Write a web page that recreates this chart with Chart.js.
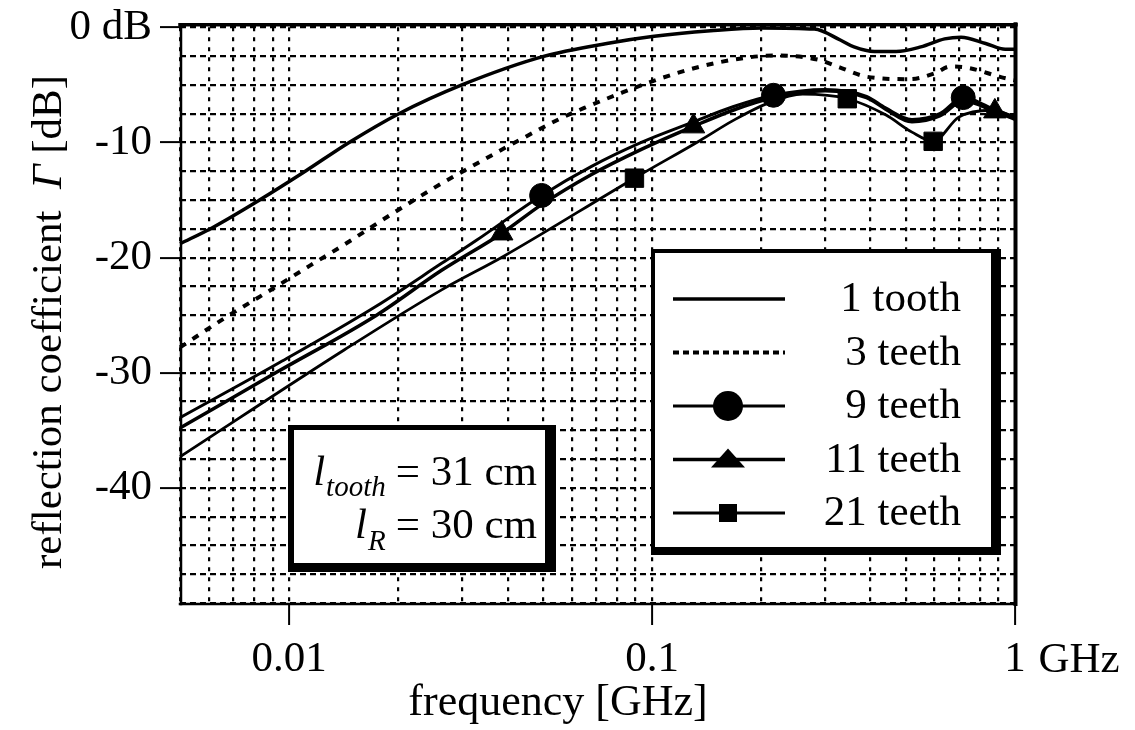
<!DOCTYPE html>
<html>
<head>
<meta charset="utf-8">
<script src="https://cdn.jsdelivr.net/npm/chart.js@4.4.1/dist/chart.umd.min.js"></script>
<style>
  html, body { margin: 0; padding: 0; background: #fff; }
</style>
</head>
<body>
<canvas id="chart" width="1135" height="730"></canvas>
<script>
// frequency [GHz] and reflection coefficient [dB]
const tooth1Freq = [0.005, 0.00614, 0.00828, 0.01107, 0.01462, 0.02005, 0.0299, 0.0505, 0.075, 0.1, 0.145, 0.2, 0.28, 0.33, 0.36, 0.41, 0.47, 0.55, 0.64, 0.71, 0.83, 0.94, 1.0];
const tooth1Db   = [-18.8, -17.4, -15.0, -12.5, -10.0, -7.5, -5.0, -2.5, -1.4, -0.8, -0.3, -0.05, -0.15, -1.1, -1.7, -2.1, -2.1, -1.7, -1.0, -0.85, -1.4, -1.9, -1.9];

const teeth3Freq = [0.005, 0.0066, 0.0088, 0.0114, 0.0143, 0.0192, 0.0252, 0.0339, 0.0436, 0.0552, 0.065, 0.0807, 0.104, 0.136, 0.176, 0.216, 0.286, 0.33, 0.392, 0.515, 0.60, 0.663, 0.738, 0.91, 1.0];
const teeth3Db   = [-27.8, -25.3, -22.9, -20.7, -18.8, -16.2, -13.9, -11.6, -9.7, -8.0, -7.0, -5.8, -4.5, -3.4, -2.7, -2.45, -2.8, -3.5, -4.3, -4.5, -4.0, -3.4, -3.5, -4.3, -4.6];

const teeth9Freq  = [0.005, 0.0093, 0.0174, 0.0263, 0.0328, 0.0496, 0.0679, 0.0934, 0.128, 0.167, 0.216, 0.30, 0.39, 0.44, 0.52, 0.62, 0.72, 0.86, 1.0];
const teeth9Db    = [-33.9, -29.2, -24.2, -20.5, -18.5, -14.6, -12.1, -10.0, -8.3, -6.9, -5.9, -5.4, -6.0, -7.0, -8.0, -7.5, -6.1, -7.0, -7.8];
const teeth9Marks = [0.0496, 0.216, 0.72];

const teeth11Freq  = [0.005, 0.0093, 0.0174, 0.0263, 0.0385, 0.0496, 0.0679, 0.0934, 0.13, 0.167, 0.216, 0.30, 0.39, 0.44, 0.52, 0.62, 0.72, 0.88, 1.0];
const teeth11Db    = [-34.8, -29.9, -25.0, -21.1, -17.9, -15.4, -12.8, -10.6, -8.6, -7.2, -6.1, -5.5, -6.1, -7.1, -8.2, -7.7, -6.4, -7.3, -8.0];
const teeth11Marks = [0.0385, 0.13, 0.88];

const teeth21Freq  = [0.005, 0.0142, 0.0263, 0.0389, 0.0894, 0.136, 0.167, 0.208, 0.26, 0.345, 0.44, 0.52, 0.595, 0.70, 0.86, 1.0];
const teeth21Db    = [-37.3, -28.0, -22.8, -19.9, -13.1, -9.8, -8.1, -6.6, -5.8, -6.2, -7.6, -9.1, -9.9, -7.8, -7.2, -7.8];
const teeth21Marks = [0.0894, 0.345, 0.595];

const seriesNames = ['1 tooth', '3 teeth', '9 teeth', '11 teeth', '21 teeth'];

// axes
const xGridValues = [0.005, 0.006, 0.007, 0.008, 0.009, 0.01, 0.02, 0.03, 0.04, 0.05, 0.06, 0.07, 0.08, 0.09,
                     0.1, 0.2, 0.3, 0.4, 0.5, 0.6, 0.7, 0.8, 0.9, 1];
const xLabelValues = [0.01, 0.1, 1];
const xLabelTexts  = ['0.01', '0.1', '1'];
const yGridValues = Array.from({length: 21}, (_, i) => -50 + 2.5 * i);
const yLabelValues = [0, -10, -20, -30, -40];
const yLabelTexts  = ['0 dB', '-10', '-20', '-30', '-40'];

const FONT = "'Liberation Serif', 'Times New Roman', serif";

const pts = (f, d) => f.map((x, i) => ({x: x, y: d[i]}));
const marker = (marks, r) => (ctx) => (ctx.raw && marks.includes(ctx.raw.x)) ? r : 0;

const lineBase = {
  borderColor: '#000',
  backgroundColor: '#000',
  pointBackgroundColor: '#000',
  pointBorderColor: '#000',
  cubicInterpolationMode: 'monotone',
  fill: false,
  clip: 4
};

const datasets = [
  Object.assign({}, lineBase, {label: seriesNames[0], data: pts(tooth1Freq, tooth1Db), borderWidth: 3.5, pointRadius: 0}),
  Object.assign({}, lineBase, {label: seriesNames[1], data: pts(teeth3Freq, teeth3Db), borderWidth: 4, borderDash: [7, 8], pointRadius: 0}),
  Object.assign({}, lineBase, {label: seriesNames[2], data: pts(teeth9Freq, teeth9Db), borderWidth: 3,
    pointStyle: 'circle', pointRadius: marker(teeth9Marks, 12), pointBorderWidth: 1}),
  Object.assign({}, lineBase, {label: seriesNames[3], data: pts(teeth11Freq, teeth11Db), borderWidth: 3.5,
    pointStyle: 'triangle', pointRadius: marker(teeth11Marks, 13), pointBorderWidth: 1}),
  Object.assign({}, lineBase, {label: seriesNames[4], data: pts(teeth21Freq, teeth21Db), borderWidth: 2.8,
    pointStyle: 'rect', pointRadius: marker(teeth21Marks, 13), pointBorderWidth: 1})
];

// frame, legend box, annotation and axis titles
const decorations = {
  id: 'decorations',
  afterDatasetsDraw(chart) {
    const ctx = chart.ctx;
    const a = chart.chartArea;
    ctx.save();
    ctx.strokeStyle = '#000';
    ctx.lineCap = 'square';
    ctx.lineWidth = 3.5;
    ctx.beginPath(); ctx.moveTo(a.left, a.top - 2.5); ctx.lineTo(a.right + 1, a.top - 2.5); ctx.stroke();
    ctx.lineWidth = 4;
    ctx.beginPath(); ctx.moveTo(a.right + 0.5, a.top - 3); ctx.lineTo(a.right + 0.5, a.bottom + 1); ctx.stroke();
    ctx.lineWidth = 2.5;
    ctx.beginPath(); ctx.moveTo(a.left + 1, a.top - 3); ctx.lineTo(a.left + 1, a.bottom + 1); ctx.stroke();
    ctx.beginPath(); ctx.moveTo(a.left, a.bottom + 1); ctx.lineTo(a.right, a.bottom + 1); ctx.stroke();
    ctx.restore();
  },
  afterDraw(chart) {
    const ctx = chart.ctx;
    const xs = chart.scales.x;
    ctx.save();
    ctx.fillStyle = '#000';

    // legend
    ctx.fillRect(651, 249, 350, 306);
    ctx.fillStyle = '#fff';
    ctx.fillRect(655, 253, 336, 294);
    chart.data.datasets.forEach((ds, i) => {
      const y = 299 + i * 53.5;
      ctx.strokeStyle = '#000';
      ctx.fillStyle = '#000';
      ctx.lineWidth = ds.borderWidth;
      ctx.setLineDash(ds.borderDash ? [6, 4] : []);
      ctx.beginPath(); ctx.moveTo(673, y); ctx.lineTo(785, y); ctx.stroke();
      ctx.setLineDash([]);
      const mx = 728;
      if (ds.pointStyle === 'circle') {
        ctx.beginPath(); ctx.arc(mx, y, 15, 0, Math.PI * 2); ctx.fill();
      } else if (ds.pointStyle === 'triangle') {
        ctx.beginPath(); ctx.moveTo(mx, y - 11); ctx.lineTo(mx + 17, y + 8); ctx.lineTo(mx - 17, y + 8); ctx.closePath(); ctx.fill();
      } else if (ds.pointStyle === 'rect') {
        ctx.fillRect(mx - 9, y - 9, 18, 18);
      }
      ctx.font = '43px ' + FONT;
      ctx.textAlign = 'right';
      ctx.textBaseline = 'middle';
      ctx.fillText(ds.label, 961, y + 1);
    });

    // annotation box
    ctx.fillStyle = '#000';
    ctx.fillRect(288, 425, 268, 147);
    ctx.fillStyle = '#fff';
    ctx.fillRect(294, 430, 251, 133);
    ctx.fillStyle = '#000';
    ctx.textBaseline = 'alphabetic';
    const rows = [
      {sub: 'tooth', rest: '= 31 cm', base: 485, subBase: 496},
      {sub: 'R', rest: '= 30 cm', base: 538, subBase: 550}
    ];
    rows.forEach(r => {
      ctx.font = '43px ' + FONT;
      ctx.textAlign = 'right';
      ctx.fillText(r.rest, 537, r.base);
      const restW = ctx.measureText(r.rest).width;
      const subRight = 537 - restW - 10;
      ctx.font = 'italic 29px ' + FONT;
      ctx.fillText(r.sub, subRight, r.subBase);
      const subW = ctx.measureText(r.sub).width;
      ctx.font = 'italic 43px ' + FONT;
      ctx.fillText('l', subRight - subW - 1, r.base);
    });

    // unit after the last x label
    ctx.font = '43px ' + FONT;
    ctx.textAlign = 'left';
    ctx.textBaseline = 'middle';
    const px1 = xs.getPixelForValue(1);
    ctx.fillText(' GHz', px1 + ctx.measureText('1').width / 2 + 2, 661);

    // x title
    ctx.textAlign = 'center';
    ctx.font = '44px ' + FONT;
    ctx.fillText('frequency [GHz]', 558, 703);

    // y title, with italic Gamma
    ctx.translate(50, 322);
    ctx.rotate(-Math.PI / 2);
    const parts = [['reflection coefficient  ', ''], ['\u0393', 'italic '], [' [dB]', '']];
    let total = 0;
    parts.forEach(p => { ctx.font = p[1] + '43px ' + FONT; p.push(ctx.measureText(p[0]).width); total += p[2]; });
    let cx = -total / 2;
    ctx.textAlign = 'left';
    parts.forEach(p => { ctx.font = p[1] + '43px ' + FONT; ctx.fillText(p[0], cx, 0); cx += p[2]; });
    ctx.restore();
  }
};

new Chart(document.getElementById('chart'), {
  type: 'line',
  data: {datasets: datasets},
  plugins: [decorations],
  options: {
    responsive: false,
    animation: false,
    devicePixelRatio: 1,
    layout: {padding: {left: 0, right: 120, top: 20, bottom: 0}},
    plugins: {legend: {display: false}, tooltip: {enabled: false}},
    scales: {
      x: {
        type: 'logarithmic',
        min: 0.005,
        max: 1,
        afterBuildTicks: (s) => { s.ticks = xGridValues.map(v => ({value: v})); },
        afterFit: (s) => { s.height = 127; },
        ticks: {
          autoSkip: false, maxRotation: 0, minRotation: 0, padding: 15, color: '#000',
          font: {family: FONT, size: 43, lineHeight: 0.9},
          callback: (v) => { const i = xLabelValues.indexOf(v); return i >= 0 ? xLabelTexts[i] : ''; }
        },
        grid: {
          color: '#000', lineWidth: 2.2, tickLength: 22, tickWidth: 2, tickBorderDash: [],
          tickColor: (c) => (c.tick && xLabelValues.includes(c.tick.value)) ? '#000' : 'rgba(0,0,0,0)'
        },
        border: {display: false, dash: [4, 6]}
      },
      y: {
        type: 'linear',
        min: -50,
        max: 0,
        afterBuildTicks: (s) => { s.ticks = yGridValues.map(v => ({value: v})); },
        afterFit: (s) => { s.width = 180; },
        ticks: {
          autoSkip: false, padding: 8, color: '#000',
          font: {family: FONT, size: 43, lineHeight: 0.9},
          callback: (v) => { const i = yLabelValues.indexOf(v); return i >= 0 ? yLabelTexts[i] : ''; }
        },
        grid: {
          color: '#000', lineWidth: 2.2, tickLength: 20, tickWidth: 2, tickBorderDash: [],
          tickColor: (c) => (c.tick && yLabelValues.includes(c.tick.value)) ? '#000' : 'rgba(0,0,0,0)'
        },
        border: {display: false, dash: [6, 4]}
      }
    }
  }
});
</script>
</body>
</html>
